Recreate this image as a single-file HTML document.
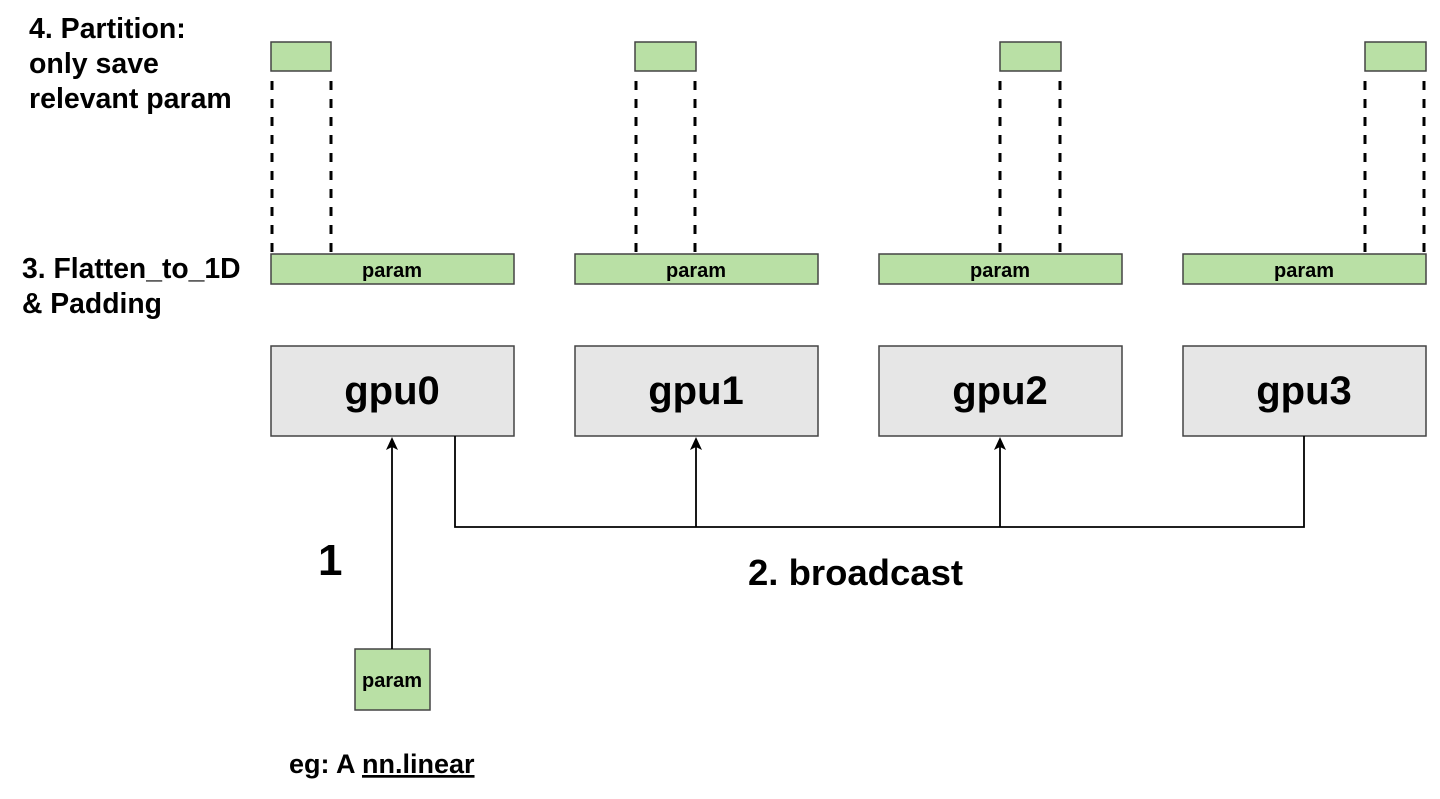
<!DOCTYPE html>
<html><head><meta charset="utf-8"><style>
html,body{margin:0;padding:0;background:#fff;}
svg{display:block;}
text{font-family:"Liberation Sans",Arial,sans-serif;font-weight:bold;fill:#000;}
</style></head><body>
<svg width="1440" height="799" viewBox="0 0 1440 799" xmlns="http://www.w3.org/2000/svg">
<g font-size="28.5">
<text x="29" y="38">4. Partition:</text>
<text x="29" y="73">only save</text>
<text x="29" y="108">relevant param</text>
</g>
<g font-size="28.3">
<text x="22" y="278">3. Flatten_to_1D</text>
<text x="22" y="313">&amp; Padding</text>
</g>
<g stroke="#000" stroke-width="3" stroke-dasharray="9 9">
<line x1="272" y1="81" x2="272" y2="254"/><line x1="331" y1="81" x2="331" y2="254"/>
<line x1="636" y1="81" x2="636" y2="254"/><line x1="695" y1="81" x2="695" y2="254"/>
<line x1="1000" y1="81" x2="1000" y2="254"/><line x1="1060" y1="81" x2="1060" y2="254"/>
<line x1="1365" y1="81" x2="1365" y2="254"/><line x1="1424" y1="81" x2="1424" y2="254"/>
</g>
<g fill="#b9e0a5" stroke="#444" stroke-width="1.5">
<rect x="271" y="42" width="60" height="29"/>
<rect x="635" y="42" width="61" height="29"/>
<rect x="1000" y="42" width="61" height="29"/>
<rect x="1365" y="42" width="61" height="29"/>
<rect x="271" y="254" width="243" height="30"/>
<rect x="575" y="254" width="243" height="30"/>
<rect x="879" y="254" width="243" height="30"/>
<rect x="1183" y="254" width="243" height="30"/>
<rect x="355" y="649" width="75" height="61"/>
</g>
<g font-size="20" text-anchor="middle">
<text x="392" y="277">param</text>
<text x="696" y="277">param</text>
<text x="1000" y="277">param</text>
<text x="1304" y="277">param</text>
<text x="392" y="687">param</text>
</g>
<g fill="#e6e6e6" stroke="#444" stroke-width="1.5">
<rect x="271" y="346" width="243" height="90"/>
<rect x="575" y="346" width="243" height="90"/>
<rect x="879" y="346" width="243" height="90"/>
<rect x="1183" y="346" width="243" height="90"/>
</g>
<g font-size="40" text-anchor="middle">
<text x="392" y="404">gpu0</text>
<text x="696" y="404">gpu1</text>
<text x="1000" y="404">gpu2</text>
<text x="1304" y="404">gpu3</text>
</g>
<g stroke="#000" stroke-width="1.8" fill="none">
<line x1="392" y1="649" x2="392" y2="444"/>
<polyline points="455,436 455,527 1304,527 1304,436"/>
<line x1="696" y1="527" x2="696" y2="444"/>
<line x1="1000" y1="527" x2="1000" y2="444"/>
</g>
<g fill="#000">
<path d="M392,437 L398,450 L392,447 L386,450 Z"/>
<path d="M696,437 L702,450 L696,447 L690,450 Z"/>
<path d="M1000,437 L1006,450 L1000,447 L994,450 Z"/>
</g>
<text x="318" y="575" font-size="44">1</text>
<text x="748" y="585" font-size="36.5">2. broadcast</text>
<text x="289" y="773" font-size="27">eg: A <tspan text-decoration="underline">nn.linear</tspan></text>
</svg>
</body></html>
